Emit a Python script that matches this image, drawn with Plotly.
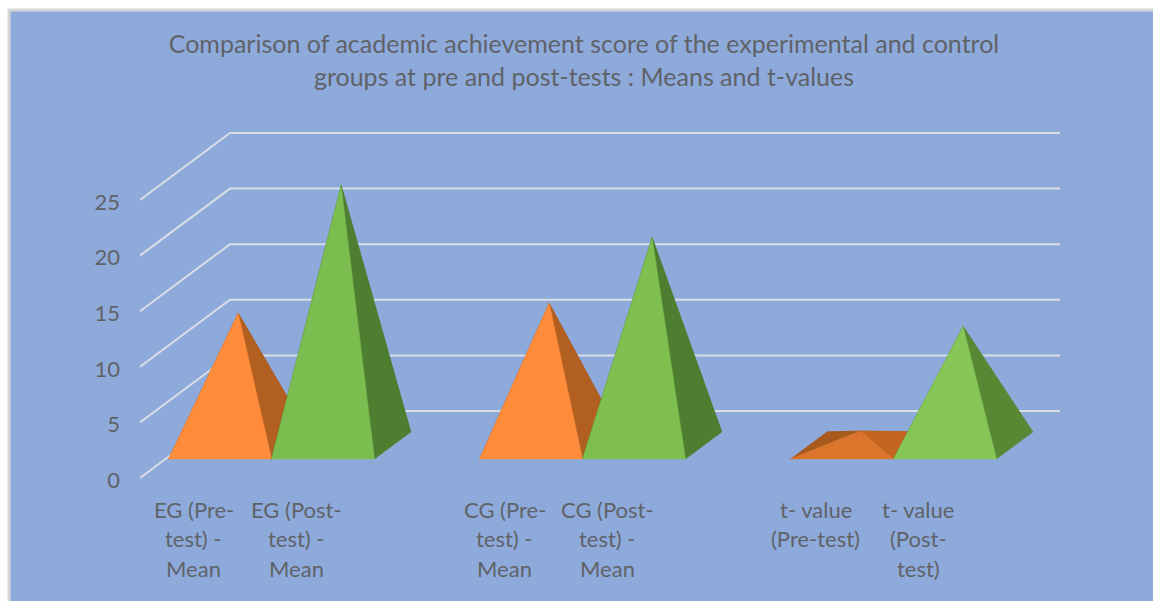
import plotly.graph_objects as go

title_lines = ["Comparison of academic achievement score of the experimental and control",
               "groups at pre and post-tests : Means and t-values"]
clusters = [0, 1, 2]
tick_labels = [["EG (Pre-<br>test) -<br>Mean", "EG (Post-<br>test) -<br>Mean"],
               ["CG (Pre-<br>test) -<br>Mean", "CG (Post-<br>test) -<br>Mean"],
               ["t- value<br>(Pre-test)", "t- value<br>(Post-<br>test)"]]
pre_values = [11.9, 12.8, 1.3]
post_values = [23.4, 18.7, 10.7]
y_ticks = [0, 5, 10, 15, 20, 25]

pre_front = ["#FF8C3B", "#FF8C3B", "#DA752B"]
pre_side = ["#B25F22", "#B25F22", "#C4651F"]
pre_back = ["#A4551C", "#A4551C", "#A8591C"]
post_front = ["#7CBD50", "#7EBF50", "#85C657"]
post_side = ["#4E7F30", "#4E7F30", "#598835"]
post_back = ["#44702A", "#44702A", "#4E7F30"]

W, H = 1153, 601
L, R, T, B = 140, 1060, 110, 494
PX_X, PX_Y = 311.0, 11.12            # pixels per x unit / per y unit
X0 = 246.0                           # pixel of cluster 0 on the front plane
DX, DY = 90 / PX_X, 67 / PX_Y        # depth shift across the floor
D_FRONT, D_MID, D_BACK = 0.2836, 0.485, 0.687
HALF = 0.1655

xr = [(L - X0) / PX_X, (R - X0) / PX_X]
yr = [(478 - B) / PX_Y, (478 - T) / PX_Y]
px = lambda p: (p - L) / (R - L)
py = lambda p: (B - p) / (B - T)

fig = go.Figure()

# walls
for t in y_ticks:
    fig.add_trace(go.Scatter(x=[xr[0], xr[0] + DX, xr[1]], y=[t, t + DY, t + DY], mode="lines",
                             line=dict(color="#D9DEE6", width=2), hoverinfo="skip", showlegend=False,
                             cliponaxis=False))


def pyramid(c, v, front, side, back):
    a = [c - HALF + DX * D_FRONT, DY * D_FRONT]
    b = [c + HALF + DX * D_FRONT, DY * D_FRONT]
    e = [c + HALF + DX * D_BACK, DY * D_BACK]
    f = [c - HALF + DX * D_BACK, DY * D_BACK]
    top = [c + DX * D_MID, v + DY * D_MID]
    for pts, col in ((
        [a, f, top], back), ([f, e, top], back), ([b, e, top], side), ([a, b, top], front)):
        xs = [p[0] for p in pts] + [pts[0][0]]
        ys = [p[1] for p in pts] + [pts[0][1]]
        fig.add_trace(go.Scatter(x=xs, y=ys, mode="lines", fill="toself", fillcolor=col,
                                 line=dict(color=col, width=0.5), hoverinfo="skip",
                                 showlegend=False, cliponaxis=False))


for i, c in enumerate(clusters):
    pyramid(c - HALF, pre_values[i], pre_front[i], pre_side[i], pre_back[i])
    pyramid(c + HALF, post_values[i], post_front[i], post_side[i], post_back[i])

annotations = []
LINE_Y = [509, 538.5, 568]
for i, c in enumerate(clusters):
    for k, off in enumerate((-HALF, HALF)):
        for n, line in enumerate(tick_labels[i][k].split("<br>")):
            annotations.append(dict(x=c + off, xref="x", xshift=-1, y=py(LINE_Y[n]), yref="paper",
                                    text=line, showarrow=False, xanchor="center", yanchor="middle",
                                    font=dict(family="Lato", size=22, color="#5F6368")))

fig.update_layout(
    width=W, height=H, autosize=False,
    margin=dict(l=L, r=W - R, t=T, b=H - B, pad=0),
    paper_bgcolor="white", plot_bgcolor="rgba(0,0,0,0)",
    title=dict(text="<br>".join(title_lines), x=584 / W, xanchor="center", y=1 - 53 / H, yanchor="middle",
               font=dict(family="Lato", size=25, color="#5F6368")),
    xaxis=dict(range=xr, showgrid=False, zeroline=False, showticklabels=False, ticks="", showline=False),
    yaxis=dict(range=yr, tickvals=y_ticks, showgrid=False, zeroline=False, showline=False, ticks="",
               ticklabelstandoff=19, ticklabelshift=2,
               tickfont=dict(family="Lato", size=22, color="#5F6368")),
    annotations=annotations,
    shapes=[dict(type="rect", xref="paper", yref="paper", layer="below",
                 x0=px(9), x1=px(W + 10), y0=py(10), y1=py(H + 10),
                 fillcolor="#8EAADB", line=dict(color="#D6D6D6", width=3))],
    hovermode=False,
)

fig.write_html("out.html", post_script="document.body.style.margin='0';document.body.style.overflow='hidden';",
               config={"displayModeBar": False})
